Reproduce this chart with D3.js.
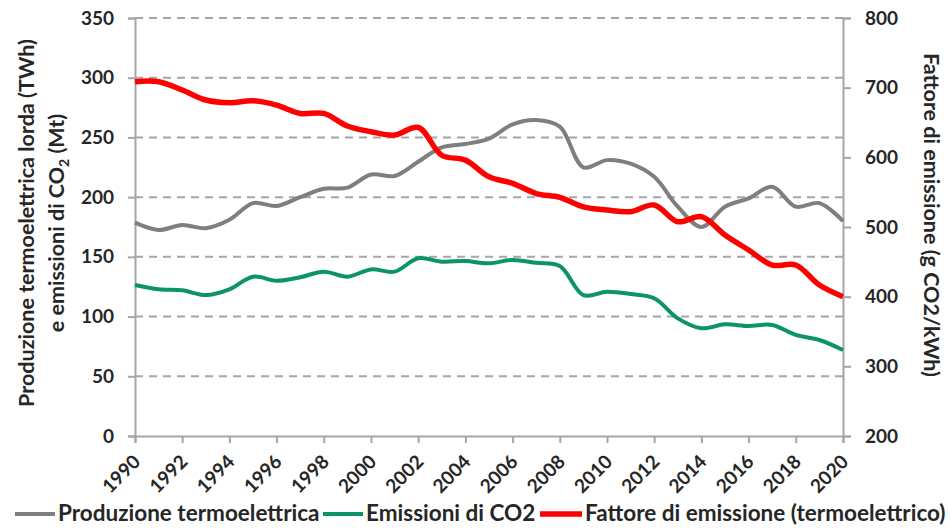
<!DOCTYPE html>
<html>
<head>
<meta charset="utf-8">
<script src="https://cdn.jsdelivr.net/npm/d3@7"></script>
<style>
  body { margin: 0; background: #fff; }
  svg { font-family: Lato, "Open Sans", sans-serif; font-weight: bold; }
</style>
</head>
<body>
<div id="chart"></div>
<script>
// data
let years = d3.range(1990, 2021)
let produzione = [178.6, 172.5, 176.7, 174, 181, 195, 192.6, 200, 207, 208, 219, 217.7, 229.7, 241.7, 244.5,
    249, 261, 264.6, 259, 225, 231, 228, 217, 192, 175, 192, 199, 208.7, 192, 195, 180]
let emissioni = [126.4, 122.8, 122, 118, 122.8, 133.4, 130, 132.9, 137.6, 133.4, 139.5, 137.6, 148.8, 146, 146.5,
    144.6, 147.4, 145, 142.3, 118, 120.8, 118.9, 115.3, 98.5, 90.2, 93.5, 92.1, 93, 84.6, 80.4, 72]
let fattore = [708.6, 708.6, 696.6, 682.3, 678.4, 681.3, 675, 663, 663, 645, 636.8, 632, 643, 603, 596,
    572, 562.7, 548, 542.6, 529, 524.4, 522, 531.6, 507.6, 514.8, 488.5, 467, 445.4, 445.4, 416.7, 400]
let leftTicks = [0, 50, 100, 150, 200, 250, 300, 350]
let rightTicks = [200, 300, 400, 500, 600, 700, 800]
let yearTicks = d3.range(1990, 2021, 2)

let svgWidth = 950, svgHeight = 529
let margin = {top: 18, right: 107, bottom: 93, left: 135}
let width = svgWidth - margin.left - margin.right
let height = svgHeight - margin.top - margin.bottom

let svg = d3.select('#chart')
    .append('svg')
    .attr('width', svgWidth)
    .attr('height', svgHeight)

let chart = svg.append('g')
    .attr("transform", "translate(" + margin.left + "," + margin.top + ")")

let xScale = d3.scaleLinear().domain([1990, 2020]).range([0, width])
let yLeft = d3.scaleLinear().domain([0, 350]).range([height, 0])
let yRight = d3.scaleLinear().domain([200, 800]).range([height, 0])

let axisColor = '#a6a6a6'
let textColor = '#262626'

// dashed gridlines
chart.selectAll('.grid')
    .data(leftTicks.filter(d => d > 0))
    .join('line')
    .attr('x1', 0)
    .attr('x2', width)
    .attr('y1', d => yLeft(d))
    .attr('y2', d => yLeft(d))
    .attr('stroke', axisColor)
    .attr('stroke-width', 2)
    .attr('stroke-dasharray', '8,6')

// axes
let leftAxis = chart.append('g')
    .call(d3.axisLeft(yLeft).tickValues(leftTicks).tickSize(7).tickPadding(14))
let rightAxis = chart.append('g')
    .attr('transform', `translate(${width},0)`)
    .call(d3.axisRight(yRight).tickValues(rightTicks).tickSize(8).tickPadding(14))
let xAxis = chart.append('g')
    .attr('transform', `translate(0,${height})`)
    .call(d3.axisBottom(xScale).tickValues(yearTicks).tickSize(7).tickFormat(d3.format('d')))

for (let ax of [leftAxis, rightAxis, xAxis]) {
    ax.select('.domain').attr('stroke', axisColor).attr('stroke-width', 2)
    ax.selectAll('.tick line').attr('stroke', axisColor).attr('stroke-width', 2)
    ax.selectAll('text')
        .attr('fill', textColor)
        .style('font-size', '19px')
        .style('font-family', 'Lato, sans-serif')
        .style('font-weight', 'bold')
}

xAxis.selectAll('text')
    .attr('y', 0)
    .attr('x', 0)
    .attr('dy', 0)
    .attr('transform', 'translate(6,27) rotate(-45)')
    .style('text-anchor', 'end')

// lines
let series = [
    {name: 'Produzione termoelettrica', values: produzione, scale: yLeft, color: '#7f7f7f', w: 4},
    {name: 'Emissioni di CO2', values: emissioni, scale: yLeft, color: '#0a9468', w: 4},
    {name: 'Fattore di emissione (termoelettrico)', values: fattore, scale: yRight, color: '#ff0000', w: 5.5}
]

chart.selectAll('.line')
    .data(series)
    .join('path')
    .attr('fill', 'none')
    .attr('stroke', d => d.color)
    .attr('stroke-width', d => d.w)
    .attr('stroke-linejoin', 'round')
    .attr('d', function (s) {
        return d3.line()
            .curve(d3.curveCatmullRom)
            .x((v, i) => xScale(years[i]))
            .y(v => s.scale(v))
            (s.values)
    })

// axis titles
let leftTitle = svg.append('text')
    .attr('transform', 'translate(0,223) rotate(-90)')
    .attr('text-anchor', 'middle')
    .attr('fill', textColor)
    .style('font-size', '21.5px')
leftTitle.append('tspan').attr('x', 0).attr('y', 34).text('Produzione termoelettrica lorda (TWh)')
let line2 = leftTitle.append('tspan').attr('x', 0).attr('y', 64)
line2.append('tspan').text('e emissioni di CO')
line2.append('tspan').attr('dy', 5).style('font-size', '14px').text('2')
line2.append('tspan').attr('dy', -5).text(' (Mt)')

svg.append('text')
    .attr('transform', 'translate(924,215) rotate(90)')
    .attr('text-anchor', 'middle')
    .attr('fill', textColor)
    .style('font-size', '21.5px')
    .text('Fattore di emissione (g CO2/kWh)')

// legend
let legendX = [15, 323, 540]
let legend = svg.selectAll('.legend')
    .data(series)
    .join('g')
    .attr('transform', (d, i) => `translate(${legendX[i]},514)`)
legend.append('line')
    .attr('x1', 0).attr('x2', (d, i) => i == 2 ? 42 : 40)
    .attr('stroke', d => d.color)
    .attr('stroke-width', d => d.w)
legend.append('text')
    .attr('x', (d, i) => i == 2 ? 45 : 43)
    .attr('y', 7)
    .attr('fill', textColor)
    .style('font-size', '22.5px')
    .text(d => d.name)
</script>
</body>
</html>
